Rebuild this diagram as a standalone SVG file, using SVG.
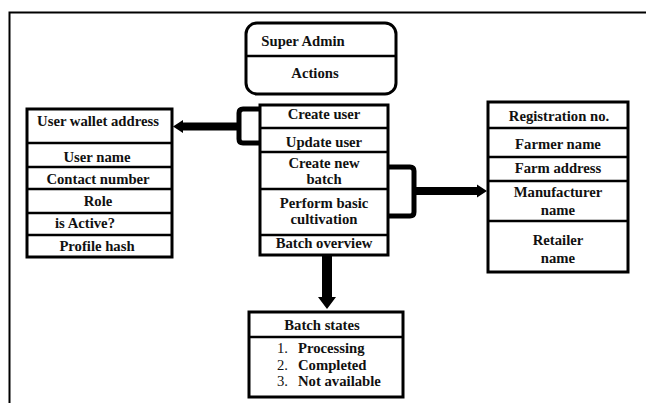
<svg xmlns="http://www.w3.org/2000/svg" width="646" height="403" viewBox="0 0 646 403">
<style>
text{font-family:"Liberation Serif","Times New Roman",serif;font-weight:bold;font-size:14.7px;fill:#111;text-anchor:middle}
.box{fill:#fff;stroke:#000;stroke-width:3}
.div{stroke:#000;stroke-width:2.5}
.br{fill:none;stroke:#000;stroke-width:5;stroke-linejoin:round}
.st{text-anchor:start}
.n{font-weight:normal}
</style>
<rect width="646" height="403" fill="#fff"/>
<path d="M9.5 403 V12.5 H646" fill="none" stroke="#000" stroke-width="2"/>

<g id="super-admin">
<rect class="box" x="246" y="23" width="150" height="71" rx="11"/>
<line class="div" x1="246" y1="56" x2="396" y2="56"/>
<text x="303" y="46">Super Admin</text>
<text x="315" y="78">Actions</text>
</g>

<g id="actions">
<rect class="box" x="260" y="105" width="128" height="150"/>
<line class="div" x1="260" y1="128" x2="388" y2="128"/>
<line class="div" x1="260" y1="152" x2="388" y2="152"/>
<line class="div" x1="260" y1="189" x2="388" y2="189"/>
<line class="div" x1="260" y1="235" x2="388" y2="235"/>
<text x="324" y="119">Create user</text>
<text x="324" y="147">Update user</text>
<text x="324" y="168">Create new</text>
<text x="324" y="184">batch</text>
<text x="324" y="208">Perform basic</text>
<text x="324" y="224">cultivation</text>
<text x="324" y="248">Batch overview</text>
</g>

<g id="user-fields">
<rect class="box" x="27" y="109" width="145" height="148"/>
<line class="div" x1="27" y1="143" x2="172" y2="143"/>
<line class="div" x1="27" y1="167" x2="172" y2="167"/>
<line class="div" x1="27" y1="189" x2="172" y2="189"/>
<line class="div" x1="27" y1="213" x2="172" y2="213"/>
<line class="div" x1="27" y1="235" x2="172" y2="235"/>
<text x="98" y="126">User wallet address</text>
<text x="97" y="162">User name</text>
<text x="98" y="184">Contact number</text>
<text x="98" y="206">Role</text>
<text x="85" y="228">is Active?</text>
<text x="97" y="251">Profile hash</text>
</g>

<g id="batch-fields">
<rect class="box" x="488" y="102" width="140" height="170"/>
<line class="div" x1="488" y1="128" x2="628" y2="128"/>
<line class="div" x1="488" y1="157" x2="628" y2="157"/>
<line class="div" x1="488" y1="181" x2="628" y2="181"/>
<line class="div" x1="488" y1="221" x2="628" y2="221"/>
<text x="559" y="121">Registration  no.</text>
<text x="558" y="149">Farmer name</text>
<text x="558" y="173">Farm address</text>
<text x="558" y="197">Manufacturer</text>
<text x="558" y="215">name</text>
<text x="558" y="245">Retailer</text>
<text x="558" y="263">name</text>
</g>

<g id="batch-states">
<rect class="box" x="249" y="312" width="154" height="85"/>
<line class="div" x1="249" y1="337" x2="403" y2="337"/>
<text x="322" y="330">Batch states</text>
<text class="st n" x="277" y="353">1.</text>
<text class="st" x="298" y="353">Processing</text>
<text class="st n" x="277" y="370">2.</text>
<text class="st" x="298" y="370">Completed</text>
<text class="st n" x="277" y="386">3.</text>
<text class="st" x="298" y="386">Not available</text>
</g>

<g id="connectors">
<path class="br" d="M260 109 H243 Q239 109 239 113 V139 Q239 143 243 143 H260"/>
<path d="M239 122.5 H183 V120 L173 126.5 L183 133 V130.5 H239 Z" fill="#000"/>
<path class="br" d="M388 167 H410 Q414 167 414 171 V212 Q414 216 410 216 H388"/>
<path d="M414 187 H477 V184.5 L487 191 L477 197.5 V195 H414 Z" fill="#000"/>
<path d="M322 256 V297 H318 L327 309 L336 297 H332 V256 Z" fill="#000"/>
</g>
</svg>
